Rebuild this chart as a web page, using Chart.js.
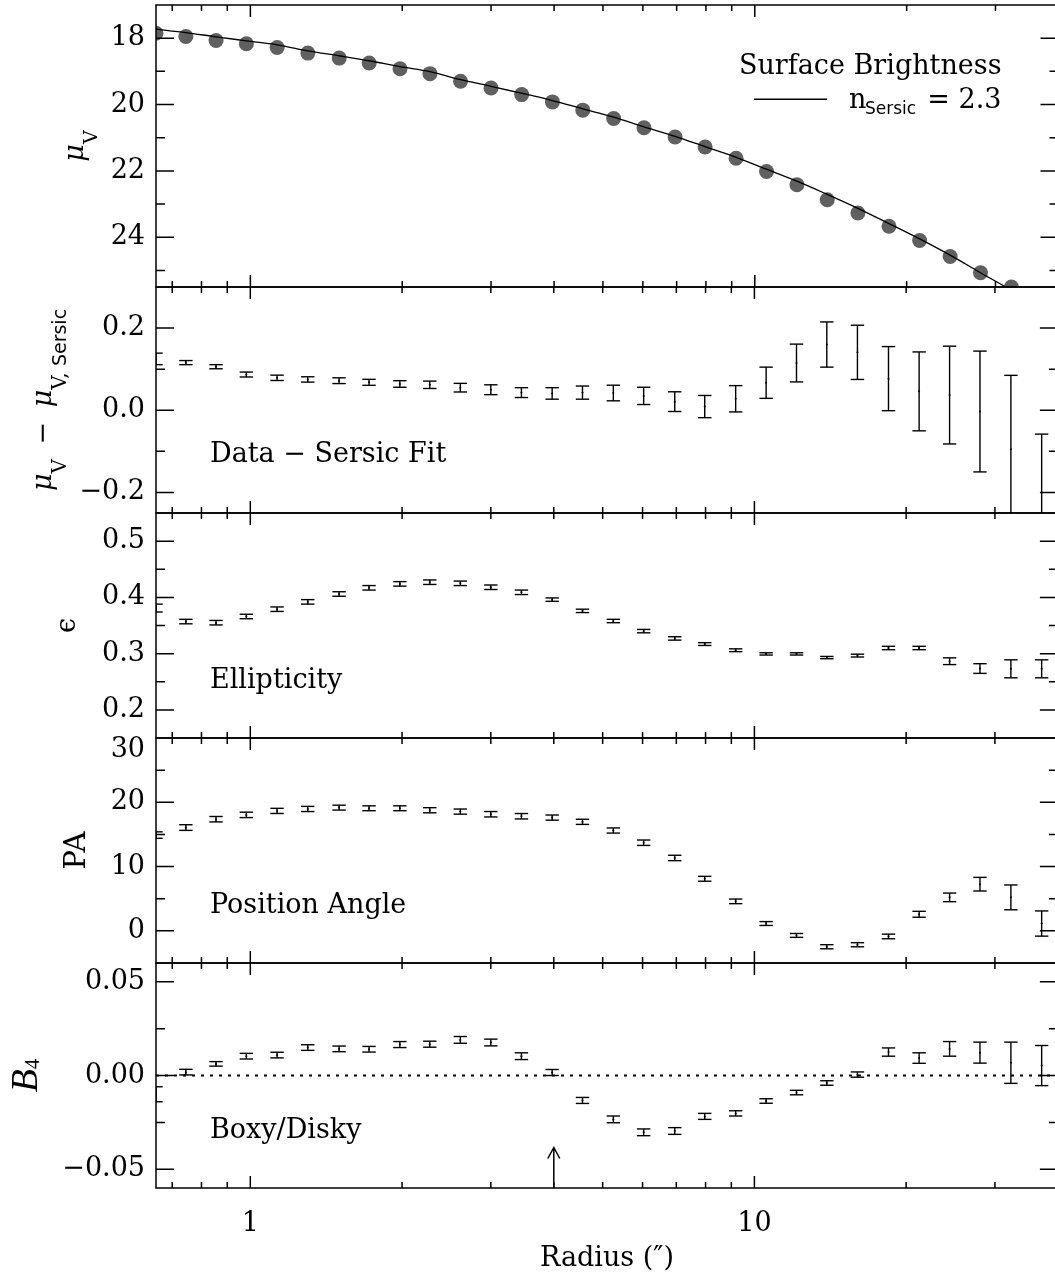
<!DOCTYPE html>
<html>
<head>
<meta charset="utf-8">
<title>Isophote profile</title>
<script src="https://cdn.jsdelivr.net/npm/chart.js@4/dist/chart.umd.min.js"></script>
<style>
  html, body { margin: 0; padding: 0; background: #fff; }
  body { position: relative; width: 1055px; height: 1281px; overflow: hidden; }
  canvas { position: absolute; left: 0; }
</style>
</head>
<body>
<canvas id="mu"></canvas>
<canvas id="resid"></canvas>
<canvas id="ellip"></canvas>
<canvas id="pa"></canvas>
<canvas id="b4"></canvas>
<script>
// isophote semi-major axis, arcsec
const radius = [0.65, 0.745, 0.855, 0.982, 1.13, 1.30, 1.50, 1.72, 1.98, 2.27,
  2.61, 3.00, 3.45, 3.97, 4.56, 5.25, 6.03, 6.95, 7.97, 9.18,
  10.55, 12.12, 13.92, 16.01, 18.45, 21.22, 24.39, 28.02, 32.27, 37.14];

// surface brightness (mag/arcsec^2) and the n = 2.3 Sersic fit
const muV = [17.85, 17.95, 18.07, 18.17, 18.28, 18.45, 18.60, 18.75, 18.92, 19.07,
  19.30, 19.50, 19.70, 19.92, 20.17, 20.42, 20.70, 20.98, 21.28, 21.62,
  22.02, 22.42, 22.87, 23.27, 23.67, 24.10, 24.58, 25.07, 25.50, null];
const muSersic = [17.73, 17.83, 17.96, 18.08, 18.20, 18.38, 18.53, 18.68, 18.86, 19.01,
  19.25, 19.45, 19.66, 19.88, 20.13, 20.38, 20.67, 20.96, 21.27, 21.59,
  21.95, 22.31, 22.71, 23.13, 23.59, 24.05, 24.54, 25.07, 25.60, 26.15];
const sersicN = '2.3';

const muResid = [0.125, 0.116, 0.106, 0.087, 0.079, 0.075, 0.072, 0.068, 0.064, 0.062,
  0.055, 0.050, 0.043, 0.041, 0.043, 0.042, 0.035, 0.021, 0.009, 0.028,
  0.067, 0.115, 0.160, 0.141, 0.077, 0.046, 0.037, -0.003, -0.095, -0.200];
const muResidErr = [0.014, 0.005, 0.005, 0.006, 0.0065, 0.0065, 0.007, 0.0073, 0.008, 0.009,
  0.0105, 0.012, 0.012, 0.014, 0.016, 0.019, 0.021, 0.024, 0.027, 0.032,
  0.038, 0.046, 0.055, 0.066, 0.078, 0.096, 0.119, 0.147, 0.180, 0.142];

const ellip = [0.381, 0.357, 0.355, 0.366, 0.379, 0.392, 0.406, 0.417, 0.424, 0.427,
  0.425, 0.418, 0.409, 0.396, 0.376, 0.358, 0.340, 0.327, 0.317, 0.306,
  0.2995, 0.2995, 0.293, 0.2965, 0.310, 0.310, 0.2865, 0.2735, 0.273, 0.273];
const ellipErr = [0.007, 0.004, 0.004, 0.004, 0.004, 0.004, 0.004, 0.004, 0.004, 0.004,
  0.004, 0.004, 0.004, 0.003, 0.003, 0.003, 0.003, 0.003, 0.0025, 0.0025,
  0.002, 0.002, 0.002, 0.0025, 0.003, 0.003, 0.006, 0.0086, 0.016, 0.016];

const posAngle = [14.9, 16.07, 17.37, 18.04, 18.66, 18.96, 19.17, 19.07, 19.07, 18.76,
  18.55, 18.14, 17.83, 17.62, 16.96, 15.61, 13.71, 11.34, 8.10, 4.59,
  1.14, -0.71, -2.47, -2.16, -0.87, 2.58, 5.21, 7.26, 5.21, 1.14];
const posAngleErr = [0.5, 0.44, 0.42, 0.42, 0.4, 0.4, 0.38, 0.38, 0.38, 0.4,
  0.4, 0.42, 0.42, 0.4, 0.4, 0.4, 0.42, 0.42, 0.38, 0.36,
  0.3, 0.3, 0.32, 0.32, 0.36, 0.46, 0.67, 1.06, 1.93, 1.96];

const b4 = [-0.010, 0.0018, 0.0062, 0.0103, 0.0109, 0.0149, 0.0142, 0.0140, 0.0165, 0.0167,
  0.0190, 0.0176, 0.0103, 0.0016, -0.0133, -0.0234, -0.0303, -0.0296, -0.0218, -0.0202,
  -0.0136, -0.0091, -0.0040, 0.0005, 0.0125, 0.0093, 0.0142, 0.0122, 0.0068, 0.0053];
const b4Err = [0.004, 0.0015, 0.0012, 0.0015, 0.0015, 0.0015, 0.0015, 0.0015, 0.0016, 0.0016,
  0.0018, 0.0018, 0.0018, 0.0016, 0.0016, 0.0018, 0.0018, 0.0018, 0.0016, 0.0014,
  0.0012, 0.0012, 0.0012, 0.0014, 0.0022, 0.0028, 0.0039, 0.0056, 0.011, 0.0107];

// marker for the break radius in the B4 panel
const breakRadius = 4.0;
const breakArrowTip = -0.0384;

// axis ranges and ticks
const radiusRange = [0.65, 40];
const radiusTicks = [1, 10];
const radiusMinor = [0.7, 0.8, 0.9, 2, 3, 4, 5, 6, 7, 8, 9, 20, 30];
const muTicks = [18, 20, 22, 24], muMinor = [19, 21, 23, 25];
const residTicks = [-0.2, 0, 0.2], residMinor = [-0.1, 0.1];
const ellipTicks = [0.2, 0.3, 0.4, 0.5], ellipMinor = [0.25, 0.35, 0.45];
const paTicks = [0, 10, 20, 30], paMinor = [5, 15, 25];
const b4Ticks = [-0.05, 0, 0.05], b4Minor = [-0.025, 0.025];

const INK = '#000';
const SERIF = "'DejaVu Serif', serif";
const SANS = "'DejaVu Sans', sans-serif";
const TIMES = "'Liberation Serif', serif";

// panel frame edges on the page, top to bottom
const EDGES = [5, 287, 513, 738, 963, 1188];
const PAD = 34;
const AXIS_W = 156;
const CANVAS_W = 1066;
const PAGE_H = 1281;

const minus = (s) => s.replace('-', '\u2212');

function errorBars(values, errs) {
  const bars = [], caps = [], mids = [];
  values.forEach((v, i) => {
    if (v === null) return;
    const r = radius[i];
    bars.push({ x: r, y: v - errs[i] }, { x: r, y: v + errs[i] }, { x: r, y: null });
    caps.push({ x: r, y: v - errs[i] }, { x: r, y: v + errs[i] });
    mids.push({ x: r, y: v });
  });
  return [
    { type: 'line', data: bars, borderColor: INK, borderWidth: 1.4, pointRadius: 0,
      spanGaps: false, tension: 0, clip: 0 },
    { type: 'scatter', data: caps, pointStyle: 'line', pointRadius: 6.7,
      borderColor: INK, borderWidth: 1.4, clip: 0 },
    { type: 'scatter', data: mids, pointStyle: 'circle', pointRadius: 1,
      backgroundColor: INK, borderWidth: 0, clip: 0 },
  ];
}

function framePlugin(major, minor) {
  return {
    id: 'frame',
    afterDatasetsDraw(chart) {
      const { ctx, chartArea: a, scales: { x, y } } = chart;
      ctx.save();
      ctx.strokeStyle = INK;
      ctx.lineWidth = 1.5;
      ctx.beginPath();
      ctx.rect(a.left, a.top, a.right - a.left, a.bottom - a.top);
      const xt = (vals, len) => vals.forEach((v) => {
        const p = x.getPixelForValue(v);
        ctx.moveTo(p, a.top); ctx.lineTo(p, a.top + len);
        ctx.moveTo(p, a.bottom); ctx.lineTo(p, a.bottom - len);
      });
      const yt = (vals, len) => vals.forEach((v) => {
        const p = y.getPixelForValue(v);
        ctx.moveTo(a.left, p); ctx.lineTo(a.left + len, p);
        ctx.moveTo(a.right, p); ctx.lineTo(a.right - len, p);
      });
      xt(radiusTicks, 12);
      xt(radiusMinor, 6);
      yt(major, 18);
      yt(minor, 9);
      ctx.stroke();
      ctx.restore();
    },
  };
}

// axis title built from runs of text (for subscripts)
function drawRuns(ctx, runs, x, y, rotate) {
  ctx.save();
  ctx.translate(x, y);
  if (rotate) ctx.rotate(-Math.PI / 2);
  ctx.fillStyle = INK;
  ctx.textAlign = 'left';
  ctx.textBaseline = 'alphabetic';
  let total = 0;
  runs.forEach((r) => { ctx.font = r.font; r.w = ctx.measureText(r.t).width + (r.gap || 0); total += r.w; });
  let pos = rotate ? -total / 2 : 0;
  runs.forEach((r) => { ctx.font = r.font; ctx.fillText(r.t, pos, r.dy || 0); pos += r.w; });
  ctx.restore();
}

function titlePlugin(runs, baselineX) {
  return {
    id: 'ytitle',
    afterDraw(chart) {
      const a = chart.chartArea;
      drawRuns(chart.ctx, runs, baselineX, (a.top + a.bottom) / 2, true);
    },
  };
}

function notePlugin(text) {
  return {
    id: 'note',
    afterDraw(chart) {
      const { ctx, chartArea: a } = chart;
      ctx.save();
      ctx.fillStyle = INK;
      ctx.font = `27px ${SERIF}`;
      ctx.textAlign = 'left';
      ctx.fillText(text, a.left + 54, a.top + 175);
      ctx.restore();
    },
  };
}

function makePanel(id, idx, cfg) {
  const top = EDGES[idx];
  const bottom = EDGES[idx + 1];
  const last = idx === EDGES.length - 2;
  const canvas = document.getElementById(id);
  canvas.width = CANVAS_W;
  canvas.height = last ? PAGE_H - (top - PAD) : bottom - top + 2 * PAD;
  canvas.style.top = (top - PAD) + 'px';

  const tickFont = { family: SERIF, size: 27 };
  return new Chart(canvas, {
    type: 'scatter',
    data: { datasets: cfg.datasets },
    options: {
      responsive: false,
      animation: false,
      events: [],
      layout: { padding: { top: PAD, bottom: last ? 0 : PAD, left: 0, right: 3 } },
      plugins: { legend: { display: false }, tooltip: { enabled: false } },
      scales: {
        x: {
          type: 'logarithmic',
          min: radiusRange[0],
          max: radiusRange[1],
          display: last,
          position: 'bottom',
          afterBuildTicks: (s) => { s.ticks = radiusTicks.map((v) => ({ value: v })); },
          afterFit: (s) => { if (last) s.height = PAGE_H - EDGES[5]; },
          grid: { display: false, drawTicks: false },
          border: { display: false },
          ticks: { autoSkip: false, maxRotation: 0, padding: 20, color: INK, font: tickFont,
            callback: (v) => String(v) },
          title: { display: last, text: 'Radius (\u2033)', color: INK,
            font: { family: SERIF, size: 27 }, padding: { top: 0, bottom: 6 } },
        },
        y: {
          type: 'linear',
          min: cfg.min,
          max: cfg.max,
          reverse: !!cfg.reverse,
          afterBuildTicks: (s) => { s.ticks = cfg.major.map((v) => ({ value: v })); },
          afterFit: (s) => { s.width = AXIS_W; },
          grid: { display: false, drawTicks: false },
          border: { display: false },
          ticks: { autoSkip: false, padding: 11, color: INK, font: tickFont, callback: cfg.fmt },
        },
      },
    },
    plugins: [framePlugin(cfg.major, cfg.minor)].concat(cfg.plugins || []),
  });
}

const pts = (vals) => vals.map((v, i) => ({ x: radius[i], y: v })).filter((p) => p.y !== null);

// surface brightness
makePanel('mu', 0, {
  min: 17, max: 25.5, reverse: true, major: muTicks, minor: muMinor,
  fmt: (v) => String(v),
  datasets: [
    { type: 'line', data: pts(muSersic), borderColor: INK, borderWidth: 1.3, pointRadius: 0,
      cubicInterpolationMode: 'monotone', clip: 0 },
    { type: 'scatter', data: pts(muV), pointRadius: 7.5, backgroundColor: '#606060',
      borderWidth: 0, clip: 0 },
  ],
  plugins: [
    titlePlugin([
      { t: '\u03bc', font: `italic 27px ${SERIF}` },
      { t: 'V', font: `19px ${SERIF}`, dy: 14 },
    ], 83),
    {
      id: 'legendText',
      afterDraw(chart) {
        const { ctx, chartArea: a } = chart;
        ctx.save();
        ctx.fillStyle = INK;
        ctx.strokeStyle = INK;
        ctx.font = `27px ${SERIF}`;
        ctx.textAlign = 'right';
        ctx.fillText('Surface Brightness', 1001.5, a.top + 69);
        ctx.fillText('= ' + sersicN, 1001.5, a.top + 103);
        ctx.textAlign = 'left';
        ctx.fillText('n', 849, a.top + 103);
        ctx.font = `17px ${SANS}`;
        ctx.fillText('Sersic', 865, a.top + 109);
        ctx.lineWidth = 1.4;
        ctx.beginPath();
        ctx.moveTo(754, a.top + 94.3);
        ctx.lineTo(827, a.top + 94.3);
        ctx.stroke();
        ctx.restore();
      },
    },
  ],
});

// residuals from the Sersic fit
makePanel('resid', 1, {
  min: -0.25, max: 0.3, major: residTicks, minor: residMinor,
  fmt: (v) => minus(v.toFixed(1)),
  datasets: errorBars(muResid, muResidErr),
  plugins: [
    titlePlugin([
      { t: '\u03bc', font: `italic 27px ${SERIF}` },
      { t: 'V', font: `20px ${SERIF}`, dy: 15, gap: 6 },
      { t: ' \u2212 ', font: `27px ${SERIF}`, gap: 6 },
      { t: '\u03bc', font: `italic 27px ${SERIF}` },
      { t: 'V, ', font: `20px ${SERIF}`, dy: 15 },
      { t: 'Sersic', font: `19px ${SANS}`, dy: 15 },
    ], 51),
    notePlugin('Data \u2212 Sersic Fit'),
  ],
});

// ellipticity
makePanel('ellip', 2, {
  min: 0.15, max: 0.55, major: ellipTicks, minor: ellipMinor,
  fmt: (v) => v.toFixed(1),
  datasets: errorBars(ellip, ellipErr),
  plugins: [
    titlePlugin([{ t: '\u03f5', font: `27px ${SERIF}` }], 75),
    notePlugin('Ellipticity'),
  ],
});

// position angle
makePanel('pa', 3, {
  min: -5, max: 30, major: paTicks, minor: paMinor,
  fmt: (v) => (v === 30 ? '' : String(v)),
  datasets: errorBars(posAngle, posAngleErr),
  plugins: [
    titlePlugin([{ t: 'PA', font: `29px ${SERIF}` }], 84.5),
    notePlugin('Position Angle'),
    {
      id: 'topLabel',
      afterDraw(chart) {
        const { ctx, scales: { y } } = chart;
        ctx.save();
        ctx.fillStyle = INK;
        ctx.font = `27px ${SERIF}`;
        ctx.textAlign = 'right';
        ctx.textBaseline = 'middle';
        ctx.fillText('30', AXIS_W - 11, y.getPixelForValue(30) + 12);
        ctx.restore();
      },
    },
  ],
});

// boxy / disky isophote shape
makePanel('b4', 4, {
  min: -0.06, max: 0.06, major: b4Ticks, minor: b4Minor,
  fmt: (v) => minus(v.toFixed(2)),
  datasets: [
    { type: 'line', data: [{ x: radiusRange[0], y: 0 }, { x: radiusRange[1], y: 0 }],
      borderColor: INK, borderWidth: 2, borderDash: [3, 6], pointRadius: 0, clip: 0 },
  ].concat(errorBars(b4, b4Err)),
  plugins: [
    titlePlugin([
      { t: 'B', font: `italic 38px ${TIMES}` },
      { t: '4', font: `21px ${TIMES}`, dy: 2 },
    ], 37),
    notePlugin('Boxy/Disky'),
    {
      id: 'breakArrow',
      afterDatasetsDraw(chart) {
        const { ctx, chartArea: a, scales: { x, y } } = chart;
        const px = x.getPixelForValue(breakRadius);
        const tip = y.getPixelForValue(breakArrowTip);
        ctx.save();
        ctx.strokeStyle = INK;
        ctx.lineWidth = 1.5;
        ctx.beginPath();
        ctx.moveTo(px, a.bottom);
        ctx.lineTo(px, tip);
        ctx.moveTo(px - 6, tip + 11);
        ctx.lineTo(px, tip);
        ctx.lineTo(px + 6, tip + 11);
        ctx.stroke();
        ctx.restore();
      },
    },
  ],
});
</script>
</body>
</html>
